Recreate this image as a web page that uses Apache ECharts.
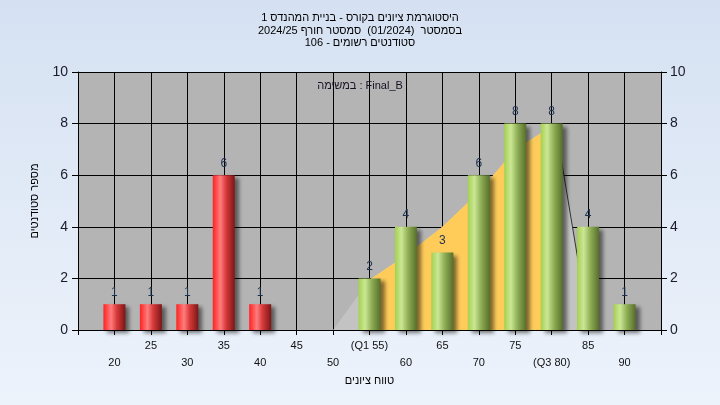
<!DOCTYPE html>
<html>
<head>
<meta charset="utf-8">
<script src="https://cdn.jsdelivr.net/npm/echarts@6/dist/echarts.min.js"></script>
<style>
html,body{margin:0;padding:0;}
#c{width:720px;height:405px;}
</style>
</head>
<body>
<div id="c"></div>
<script>
// ---- data ----
const titleLines = ['היסטוגרמת ציונים בקורס - בניית המהנדס 1', 'בסמסטר  (01/2024)  סמסטר חורף 2024/25', 'סטודנטים רשומים - 106'];
const taskLabel = 'במשימה : Final_B';
const xAxisName = 'טווח ציונים';
const yAxisName = 'מספר סטודנטים';
const xTickValues = [20, 25, 30, 35, 40, 45, 50, 55, 60, 65, 70, 75, 80, 85, 90];
const xTickLabels = ['20', '25', '30', '35', '40', '45', '50', '(Q1 55)', '60', '65', '70', '75', '(Q3 80)', '85', '90'];
const failGrades = [20, 25, 30, 35, 40];
const failCounts = [1, 1, 1, 6, 1];
const passGrades = [55, 60, 65, 70, 75, 80, 85, 90];
const passCounts = [2, 4, 3, 6, 8, 8, 4, 1];
const curveX = [50, 55, 60, 65, 70, 75, 80, 80.5, 85.2];
const curveY = [0, 1.95, 2.9, 4.0, 5.35, 7.0, 7.9, 8.0, 0];
const quartX = [55, 60, 65, 70, 75, 80];
const quartY = [1.95, 2.9, 4.0, 5.35, 7.0, 7.9];

const zip = (a, b) => a.map((v, i) => [v, b[i]]);
const labelMap = {};
xTickValues.forEach((v, i) => { labelMap[v] = xTickLabels[i]; });

const FONT = 'Liberation Sans, Arial, sans-serif';
const redGrad = new echarts.graphic.LinearGradient(0, 0, 1, 0, [
  {offset: 0, color: '#ff2222'}, {offset: 0.35, color: '#ff7d7d'},
  {offset: 0.6, color: '#d83a3a'}, {offset: 1, color: '#7c1616'}]);
const greenGrad = new echarts.graphic.LinearGradient(0, 0, 1, 0, [
  {offset: 0, color: '#a4d14f'}, {offset: 0.3, color: '#cbe795'},
  {offset: 0.6, color: '#8fae55'}, {offset: 1, color: '#566f2a'}]);
const barShadow = {shadowBlur: 4, shadowOffsetX: 4, shadowOffsetY: 3, shadowColor: 'rgba(0,0,0,0.5)'};
const barLabel = {show: true, position: 'top', distance: 6, color: '#1d3150', fontSize: 12, fontFamily: FONT};

const chart = echarts.init(document.getElementById('c'), null, {renderer: 'canvas'});
chart.setOption({
  animation: false,
  backgroundColor: new echarts.graphic.LinearGradient(0, 0, 0, 1, [
    {offset: 0, color: '#d5e1f2'}, {offset: 1, color: '#edf3fb'}]),
  title: [{
    text: titleLines.join('\n'),
    left: 'center', top: 12, padding: 0,
    textStyle: {fontSize: 11, fontWeight: 'normal', color: '#000', fontFamily: FONT, lineHeight: 12.5}
  }, {
    text: taskLabel,
    left: 'center', top: 80, padding: 0,
    textStyle: {fontSize: 11, fontWeight: 'normal', color: '#1a1024', fontFamily: FONT}
  }],
  grid: {left: 78, right: 59, top: 72, bottom: 75, show: true, backgroundColor: '#b4b4b4', borderWidth: 0, containLabel: false},
  xAxis: {
    type: 'value', min: 15, max: 95, interval: 5,
    name: xAxisName, nameLocation: 'middle', nameGap: 45,
    nameTextStyle: {fontSize: 11, color: '#000', fontFamily: FONT},
    axisLine: {show: true, lineStyle: {color: '#000', width: 1}},
    axisTick: {show: true, length: 5, lineStyle: {color: '#000'}},
    splitLine: {show: true, lineStyle: {color: '#000', width: 1}},
    axisLabel: {
      margin: 7, fontSize: 11, color: '#111', fontFamily: FONT, lineHeight: 17,
      showMinLabel: true, showMaxLabel: true,
      formatter: function (v) {
        const t = labelMap[v];
        if (t === undefined) return '';
        return ((v / 5) % 2 === 0) ? '\n' + t : t;
      }
    }
  },
  yAxis: [{
    type: 'value', min: 0, max: 10, interval: 2, position: 'left',
    name: yAxisName, nameLocation: 'middle', nameGap: 38,
    nameTextStyle: {fontSize: 11, color: '#000', fontFamily: FONT},
    axisLine: {show: true, lineStyle: {color: '#000'}},
    axisTick: {show: true, length: 6, lineStyle: {color: '#000'}},
    splitLine: {show: true, lineStyle: {color: '#000', width: 1}},
    axisLabel: {margin: 10, fontSize: 14, color: '#1b1b2e', fontFamily: FONT}
  }, {
    type: 'value', min: 0, max: 10, interval: 2, position: 'right',
    axisLine: {show: true, lineStyle: {color: '#000'}},
    axisTick: {show: true, length: 6, lineStyle: {color: '#000'}},
    splitLine: {show: false},
    axisLabel: {margin: 9, fontSize: 14, color: '#1b1b2e', fontFamily: FONT}
  }],
  series: [{
    type: 'line', data: zip(curveX, curveY), symbol: 'none', z: 1,
    lineStyle: {width: 0}, areaStyle: {color: '#c3c3c3', opacity: 1}, silent: true
  }, {
    type: 'line', data: zip(quartX, quartY), symbol: 'none', z: 2,
    lineStyle: {width: 0}, areaStyle: {color: '#ffcc5a', opacity: 1}, silent: true
  }, {
    type: 'line', data: zip(curveX.slice(-2), curveY.slice(-2)), symbol: 'none', z: 3,
    lineStyle: {width: 1, color: '#333'}, silent: true
  }, {
    type: 'bar', data: zip(failGrades, failCounts), barWidth: 22, barGap: '-100%', z: 5,
    itemStyle: Object.assign({color: redGrad}, barShadow), label: barLabel
  }, {
    type: 'bar', data: zip(passGrades, passCounts), barWidth: 22, barGap: '-100%', z: 5,
    itemStyle: Object.assign({color: greenGrad}, barShadow), label: barLabel
  }]
});
</script>
</body>
</html>
